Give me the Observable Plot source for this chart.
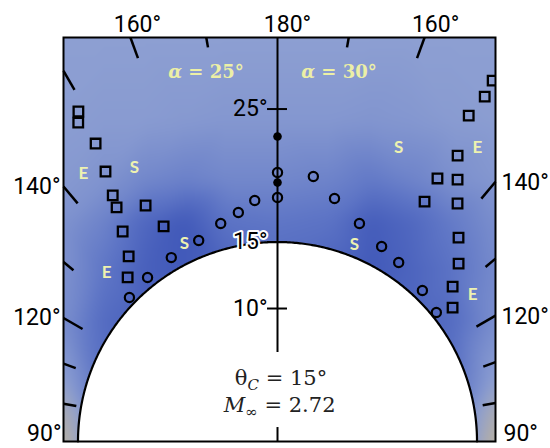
<!DOCTYPE html>
<html><head><meta charset="utf-8">
<script src="https://cdn.jsdelivr.net/npm/d3@7"></script>
<script src="https://cdn.jsdelivr.net/npm/@observablehq/plot@0.6"></script>
<style>body{margin:0;background:#fff}</style>
</head><body><div id="chart"></div>
<script>
// ---- values ----
const coneAngle = 15;          // theta_C
const machNumber = "2.72";     // M_inf
const alphaLeft = 25, alphaRight = 30;

// azimuth (deg, 90..180) and polar angle theta (deg) of each marker
const leftSquareAz    = [148.9, 148.0, 148.6, 147.5, 146.2, 145.5, 150.8, 143.6, 152.1, 141.2, 137.6];
const leftSquareTheta = [28.98, 28.27, 26.25, 24.07, 22.27, 21.36, 20.33, 19.62, 18.30, 17.86, 16.71];
const leftCircleAz    = [134.2, 141.6, 150.0, 158.6, 165.4, 170.3, 174.6];
const leftCircleTheta = [15.53, 15.73, 15.97, 16.24, 16.94, 17.47, 18.20];
const axisOpenTheta   = [20.23, 18.35];
const axisFilledTheta = [22.93, 19.47];
const rightCircleAz    = [172.3, 166.8, 159.4, 151.9, 145.9, 136.2, 129.1];
const rightCircleTheta = [20.11, 18.77, 17.51, 16.62, 16.25, 15.74, 15.39];
const rightSquareAz    = [149.2, 149.0, 149.6, 147.8, 148.7, 145.5, 148.5, 142.9, 138.4, 134.5, 131.5, 127.4];
const rightSquareTheta = [31.59, 30.25, 28.41, 25.41, 23.15, 23.90, 21.16, 22.44, 20.50, 19.09, 17.58, 16.57];

// E / S labels: text, side (-1 left, +1 right), azimuth, theta
const esText  = ["E", "S", "E", "S", "S", "E", "S", "E"];
const esSide  = [-1, -1, -1, -1, 1, 1, 1, 1];
const esAz    = [144.1, 152.4, 134.7, 154.8, 157.6, 145.8, 158.7, 127.0];
const esTheta = [24.88, 23.24, 18.08, 16.45, 23.9, 26.73, 15.9, 18.36];

// frame ticks (azimuth) and labels
const leftTickAz  = [100, 110, 120, 130, 140, 150, 160, 170];
const rightTickAz = [100, 110, 120, 130, 140, 160, 170];
const longTicks   = [120, 140, 150, 160];
const sideLabelAz = [140, 120];
const bottomLabelAz = 90;
const topLabelAz  = 160;
const axisTickTheta = [10, 15, 25];

// background shading (0 tan, 1 light, 2 mid, 3 dark)
const shadeX = [-16.1, -13, -10, -7, -4, 0, 4, 7, 10, 13, 16.4];
const shadeY = [30.4, 24, 19.5, 16.5, 13, 9, 5, 2, 0];
const shadeV = [
  [1.0, 1.0, 1.0, 1.0, 1.0, 1.0, 1.0, 1.0, 1.0, 1.0, 1.0],
  [1.05,1.1, 1.1, 1.15,1.2, 1.2, 1.2, 1.25,1.2, 1.1, 1.05],
  [1.15,1.3, 1.6, 1.75,1.6, 1.6, 1.7, 1.95,1.7, 1.4, 1.2],
  [1.3, 1.7, 2.4, 2.8, 2.1, 2.0, 2.1, 2.7, 2.4, 1.9, 1.4],
  [1.3, 2.0, 2.6, 2.8, 2.5, 2.3, 2.5, 2.8, 2.5, 2.1, 1.5],
  [1.4, 2.3, 2.6, 2.6, 2.5, 2.3, 2.5, 2.6, 2.5, 2.3, 1.4],
  [1.0, 2.2, 2.3, 2.3, 2.3, 2.3, 2.3, 2.3, 2.3, 2.2, 1.0],
  [0.3, 2.0, 2.0, 2.0, 2.0, 2.0, 2.0, 2.0, 2.0, 2.0, 0.3],
  [0.0, 1.9, 1.9, 1.9, 1.9, 1.9, 1.9, 1.9, 1.9, 1.9, 0.0]
];
const shadeColors = ["#bdb29c", "#8d9fd2", "#5f76c6", "#3a52b6"];

// ---- geometry ----
const X0 = -16.09, X1 = 16.39, Y1 = 30.38;
const W = 550, H = 448, ML = 63, MR = 55, MT = 37, MB = 7;
const k = (W - ML - MR) / (X1 - X0); // px per degree
const rad = Math.PI / 180;
const toXY = (side, az, th) => {
  const b = (180 - az) * rad;
  return {x: side * th * Math.sin(b), y: th * Math.cos(b)};
};
const edgeR = (side, az) => {
  const b = (180 - az) * rad;
  const xe = side < 0 ? -X0 : X1;
  const c = Math.cos(b), s = Math.sin(b);
  return Math.min(c > 1e-9 ? Y1 / c : Infinity, s > 1e-9 ? xe / s : Infinity);
};

const leftSquares  = leftSquareAz.map((a, i) => toXY(-1, a, leftSquareTheta[i]));
const rightSquares = rightSquareAz.map((a, i) => toXY(1, a, rightSquareTheta[i]));
const openCircles = [
  ...leftCircleAz.map((a, i) => toXY(-1, a, leftCircleTheta[i])),
  ...rightCircleAz.map((a, i) => toXY(1, a, rightCircleTheta[i])),
  ...axisOpenTheta.map(t => toXY(1, 180, t))
];
const filledCircles = axisFilledTheta.map(t => toXY(1, 180, t));
const esLabels = esText.map((t, i) => ({t, ...toXY(esSide[i], esAz[i], esTheta[i])}));

const ticks = [
  ...leftTickAz.map(a => ({side: -1, a})),
  ...rightTickAz.map(a => ({side: 1, a}))
].map(({side, a}) => {
  const r = edgeR(side, a);
  const len = (a === 170 ? 10 : longTicks.includes(a) ? 22 : 13) / k;
  const p1 = toXY(side, a, r), p2 = toXY(side, a, r - len);
  return {x1: p1.x, y1: p1.y, x2: p2.x, y2: p2.y};
});

const sideLabels = side => sideLabelAz.map(a => ({...toXY(side, a, edgeR(side, a)), t: a + "°"}));
const bottomLabel = side => [{...toXY(side, bottomLabelAz, edgeR(side, bottomLabelAz)), t: bottomLabelAz + "°"}];
const topLeft  = [{...toXY(-1, topLabelAz, edgeR(-1, topLabelAz)), t: topLabelAz + "°"}];
const topRight = [{...toXY(1, topLabelAz, edgeR(1, topLabelAz)), t: topLabelAz + "°"}];
const topMid   = [{x: 0, y: Y1, t: "180°"}];

const shade = [];
shadeY.forEach((y, j) => shadeX.forEach((x, i) => shade.push({x, y, v: shadeV[j][i]})));

const coneArc = d3.range(-90, 90.25, 0.5).map(a => ({x: coneAngle * Math.sin(a * rad), y: coneAngle * Math.cos(a * rad)}));

const tickFont = {fontFamily: "Roboto", fontSize: 23, fill: "black"};
const axisLabels = axisTickTheta.map(t => ({y: t, t: t + "°"}));

const plot = Plot.plot({
  width: W, height: H,
  marginLeft: ML, marginRight: MR, marginTop: MT, marginBottom: MB,
  x: {domain: [X0, X1], axis: null},
  y: {domain: [0, Y1], axis: null},
  color: {type: "linear", domain: [0, 1, 2, 3], range: shadeColors},
  style: {background: "white"},
  marks: [
    Plot.raster(shade, {x: "x", y: "y", fill: "v", interpolate: "barycentric", blur: 6,
      x1: X0, x2: X1, y1: 0, y2: Y1}),
    Plot.areaY(coneArc, {x: "x", y1: 0, y2: "y", fill: "white"}),
    Plot.line(coneArc, {x: "x", y: "y", stroke: "black", strokeWidth: 2.2}),
    Plot.link(ticks, {x1: "x1", y1: "y1", x2: "x2", y2: "y2", stroke: "black", strokeWidth: 2.5}),
    Plot.ruleX([0], {y1: 6.7, y2: Y1, stroke: "black", strokeWidth: 2}),
    Plot.ruleX([0], {y1: 0, y2: 1.05, stroke: "black", strokeWidth: 2}),
    Plot.ruleY(axisTickTheta, {x1: -0.75, x2: 0.75, stroke: "black", strokeWidth: 2}),
    // tick labels
    Plot.text(sideLabels(-1), {x: "x", y: "y", text: "t", textAnchor: "end", lineAnchor: "middle", dx: -3, dy: 0, ...tickFont}),
    Plot.text(sideLabels(1), {x: "x", y: "y", text: "t", textAnchor: "start", lineAnchor: "middle", dx: 6, dy: 1, ...tickFont}),
    Plot.text(bottomLabel(-1), {x: "x", y: "y", text: "t", textAnchor: "end", lineAnchor: "bottom", dx: -2, dy: -1, ...tickFont}),
    Plot.text(bottomLabel(1), {x: "x", y: "y", text: "t", textAnchor: "start", lineAnchor: "bottom", dx: 8, dy: -1, ...tickFont}),
    Plot.text(topLeft, {x: "x", y: "y", text: "t", textAnchor: "middle", lineAnchor: "bottom", dx: 7, dy: -6, ...tickFont}),
    Plot.text(topMid, {x: "x", y: "y", text: "t", textAnchor: "middle", lineAnchor: "bottom", dx: 10, dy: -6, ...tickFont}),
    Plot.text(topRight, {x: "x", y: "y", text: "t", textAnchor: "middle", lineAnchor: "bottom", dx: 11, dy: -6, ...tickFont}),
    Plot.text(axisLabels, {x: 0, y: "y", text: "t", textAnchor: "end", lineAnchor: "middle", dx: -10, dy: 0,
      stroke: d => d.y === coneAngle ? "white" : "none", strokeWidth: 4, ...tickFont}),
    // markers
    Plot.dot(leftSquares, {x: "x", y: "y", symbol: "square", r: 5.4, stroke: "black", strokeWidth: 2.3, fill: "none", clip: true}),
    Plot.dot(rightSquares, {x: "x", y: "y", symbol: "square", r: 5.4, stroke: "black", strokeWidth: 2.3, fill: "none", clip: true}),
    Plot.dot(openCircles, {x: "x", y: "y", r: 4.6, stroke: "black", strokeWidth: 2.2, fill: "none"}),
    Plot.dot(filledCircles, {x: "x", y: "y", r: 4.3, fill: "black"}),
    Plot.text(esLabels, {x: "x", y: "y", text: "t", fontFamily: "Lato", fontWeight: "bold", fontSize: 17, fill: "#eef2b0", lineAnchor: "middle"}),
    Plot.frame({stroke: "black", strokeWidth: 2})
  ]
});

document.getElementById("chart").appendChild(plot);

// rich-text annotations (math-style labels), positioned through the plot scales
const sx = plot.scale("x"), sy = plot.scale("y");
const svg = d3.select(plot);
function alphaLabel(xd, yd, val) {
  const t = svg.append("text").attr("x", sx.apply(xd)).attr("y", sy.apply(yd))
    .attr("text-anchor", "middle").attr("font-family", "DejaVu Serif")
    .attr("font-size", 18).attr("font-weight", "bold").attr("fill", "#ecefa6");
  t.append("tspan").attr("font-style", "italic").text("α");
  t.append("tspan").text(" = " + val + "°");
}
alphaLabel(-5.34, 27.3, alphaLeft);
alphaLabel(4.66, 27.3, alphaRight);

const t1 = svg.append("text").attr("x", sx.apply(0.3)).attr("y", sy.apply(4.2))
  .attr("text-anchor", "middle").attr("font-family", "DejaVu Serif").attr("font-size", 21).attr("fill", "#222");
t1.append("tspan").text("θ");
t1.append("tspan").attr("font-style", "italic").attr("font-size", 15).attr("dy", 5).text("C");
t1.append("tspan").attr("dy", -5).text(" = " + coneAngle + "°");

const t2 = svg.append("text").attr("x", sx.apply(0.2)).attr("y", sy.apply(2.18))
  .attr("text-anchor", "middle").attr("font-family", "DejaVu Serif").attr("font-size", 21).attr("fill", "#222");
t2.append("tspan").attr("font-style", "italic").text("M");
t2.append("tspan").attr("font-size", 15).attr("dy", 5).text("∞");
t2.append("tspan").attr("dy", -5).text(" = " + machNumber);
</script>
</body></html>
